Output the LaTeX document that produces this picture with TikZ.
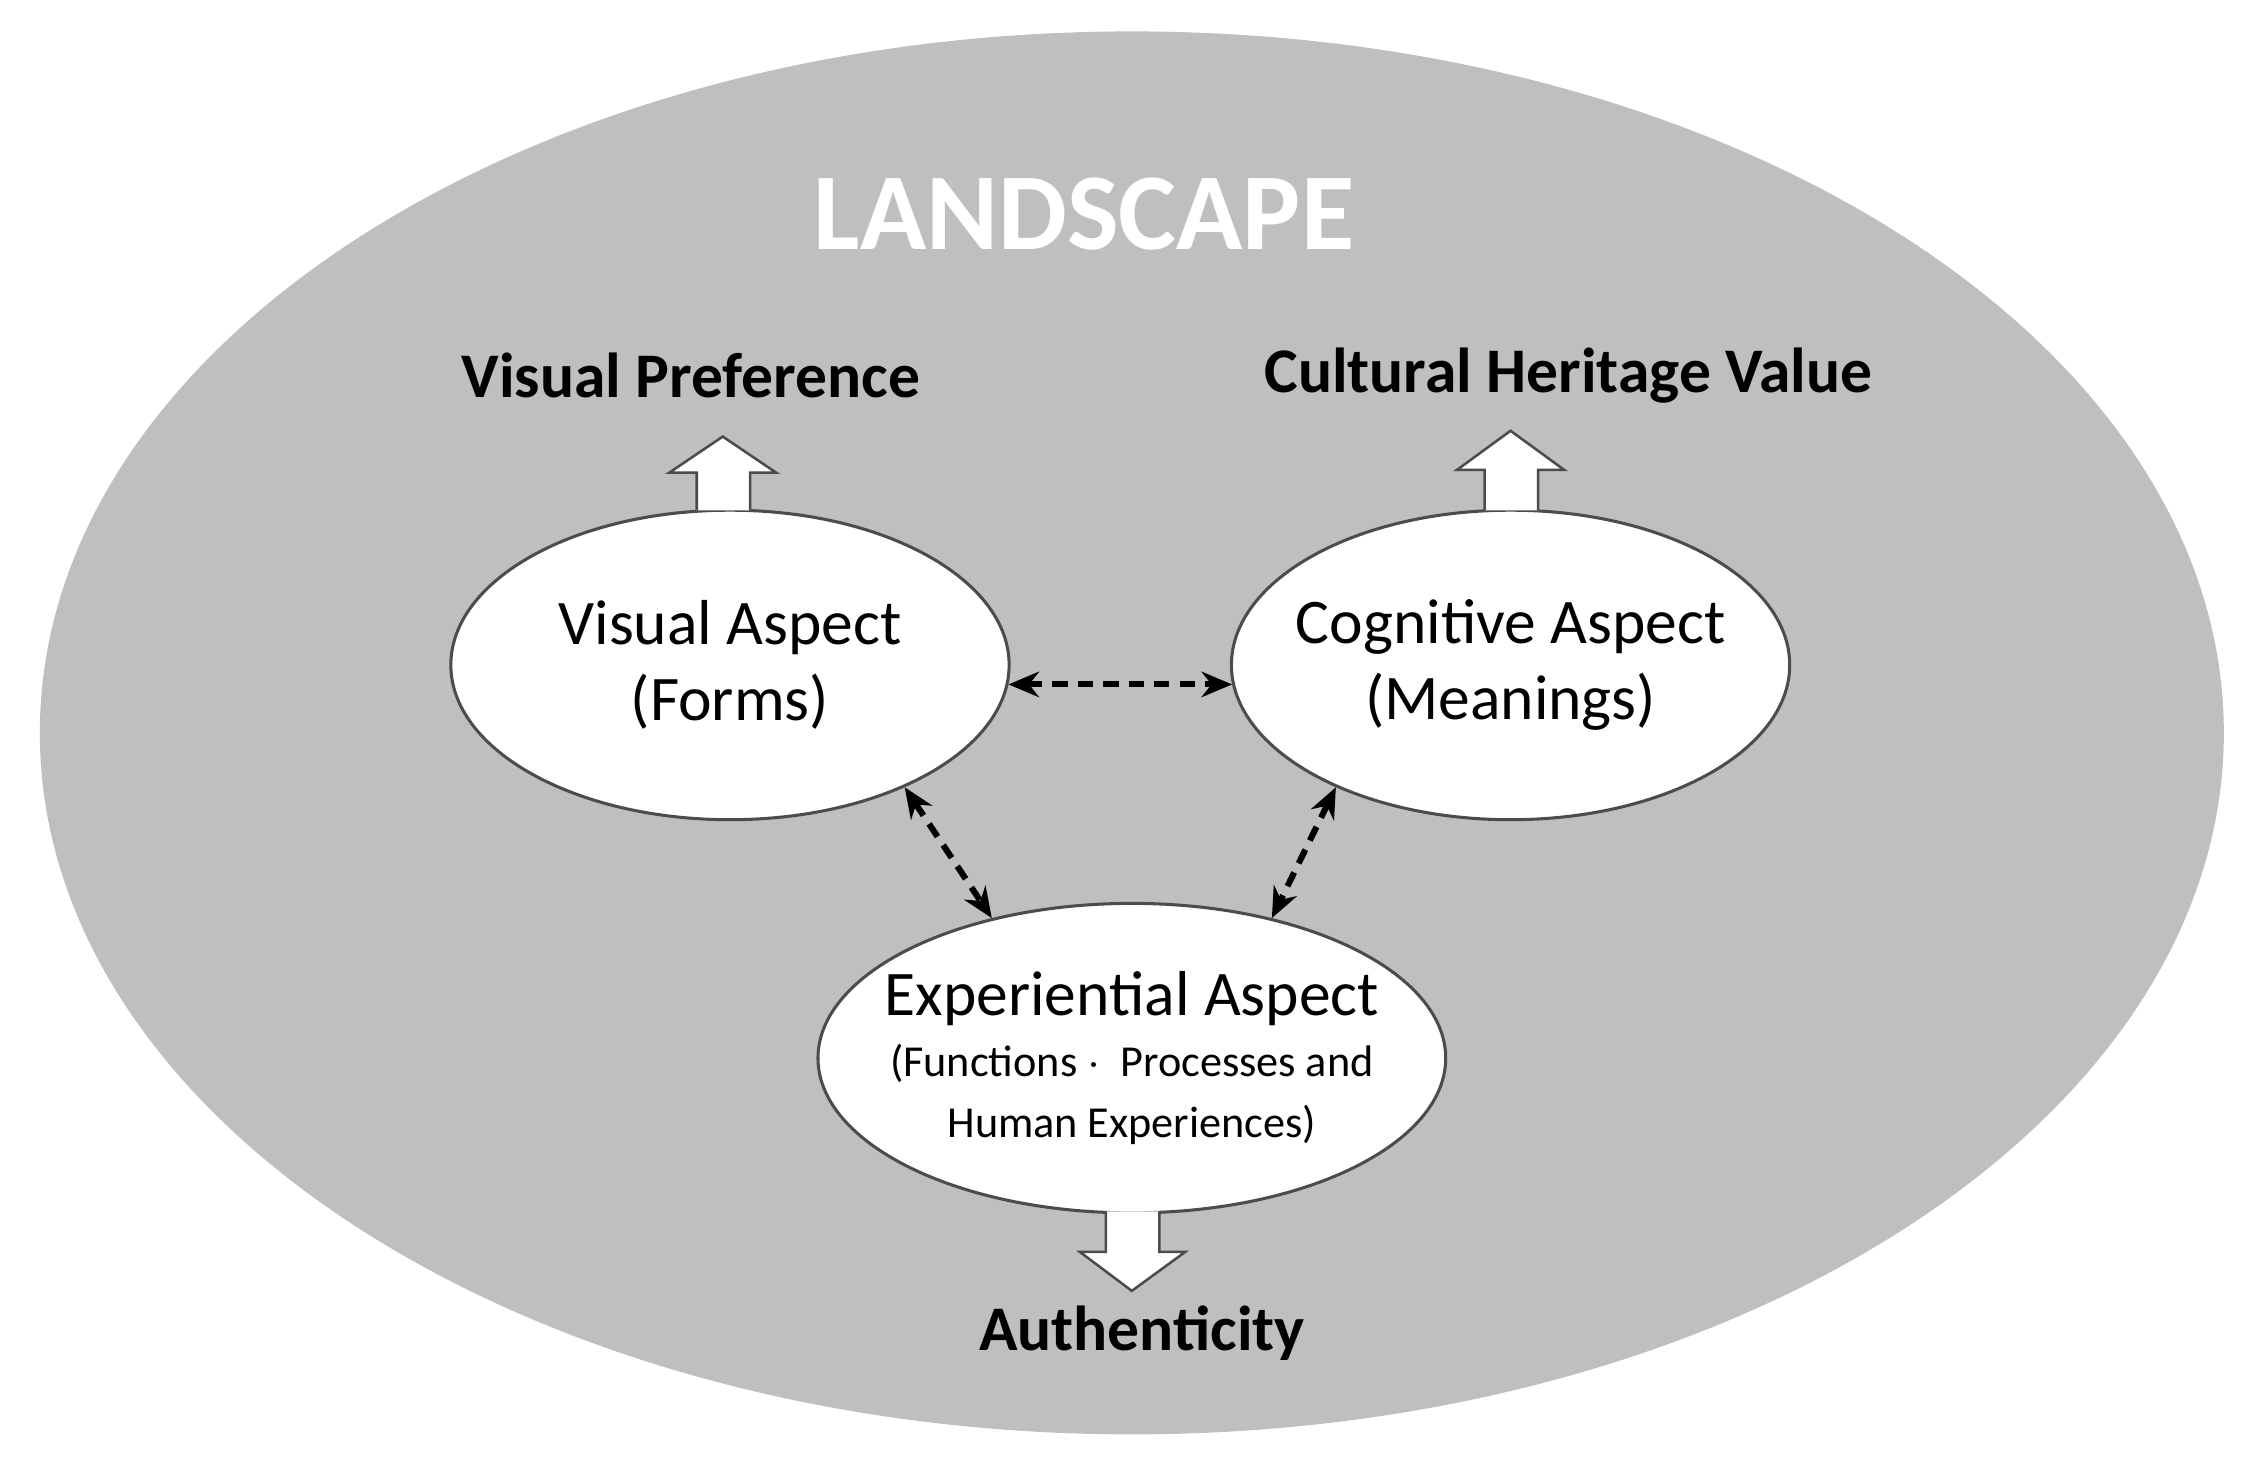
\documentclass[tikz,border=0pt]{standalone}
\usepackage{fontspec}
\setmainfont{Carlito}
\usetikzlibrary{shapes.geometric,arrows.meta}
\begin{document}
\begin{tikzpicture}[x=0.01cm,y=-0.01cm,
  asp/.style={ellipse,draw=black!70,fill=white,line width=0.6pt,inner sep=-8pt,align=center},
  lbl/.style={font=\fontsize{12.5}{15}\selectfont\bfseries},
  link/.style={densely dashed,line width=1.2pt,{Stealth[length=6pt,width=5pt]}-{Stealth[length=6pt,width=5pt]}},
  blk/.style={fill=white,draw=black!70,line width=0.5pt}]
\useasboundingbox (0,0) rectangle (1560,1017);
\node[ellipse,fill=black!25,minimum width=15.1cm,minimum height=9.7cm,inner sep=0pt] (land) at (783,507) {};
\node[text=white,font=\fontsize{21.5}{26}\selectfont\bfseries] (title) at (750,148) {LANDSCAPE};
\node[asp,minimum width=3.86cm,minimum height=2.14cm,font=\fontsize{12.5}{15}\selectfont] (v) at (505,460) {Visual Aspect\\(Forms)};
\node[asp,minimum width=3.86cm,minimum height=2.14cm,font=\fontsize{12.5}{15}\selectfont] (c) at (1045,460) {Cognitive Aspect\\(Meanings)};
\node[asp,minimum width=4.34cm,minimum height=2.14cm] (e) at (783,732)
  {{\fontsize{12.5}{14}\selectfont Experiential Aspect}\\[0pt]{\fontsize{8.7}{13}\selectfont (Functions $\cdot$\ \ Processes and}\\{\fontsize{8.7}{11}\selectfont Human Experiences)}};
\node[lbl] (vp) at (478,260) {Visual Preference};
\node[lbl] (ch) at (1085,260) {Cultural Heritage Value};
\node[lbl] (au) at (790,922) {Authenticity};
\draw[blk] (482,353) -- (482,327) -- (463,327) -- (500,302) -- (537,327) -- (519,327) -- (519,353);
\draw[blk] (1027,353) -- (1027,325) -- (1008,325) -- (1045,298) -- (1082,325) -- (1064,325) -- (1064,353);
\draw[blk] (765,838) -- (765,866) -- (747,866) -- (783,893) -- (820,866) -- (802,866) -- (802,838);
\draw[link] (v.-4) -- (c.184);
\draw[link] (v.-35) -- (e.135);
\draw[link] (c.215) -- (e.45);
\end{tikzpicture}
\end{document}
